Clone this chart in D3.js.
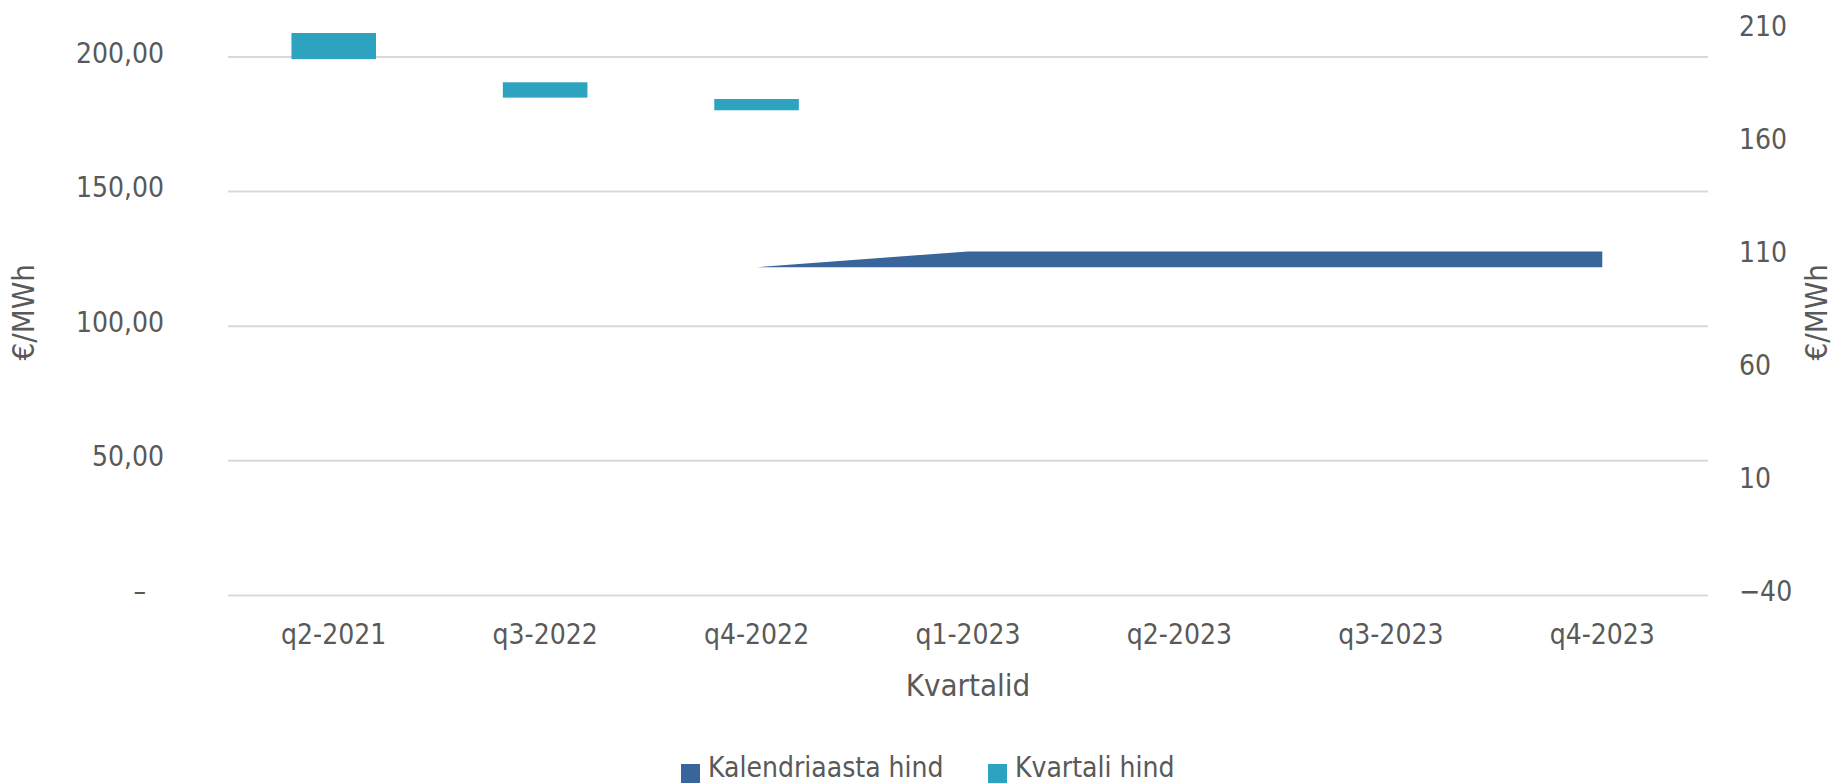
<!DOCTYPE html>
<html>
<head>
<meta charset="utf-8">
<script src="https://cdn.jsdelivr.net/npm/d3@7"></script>
<style>
  body { margin: 0; background: #fff; }
  svg text {
    font-family: "DejaVu Sans Condensed", "DejaVu Sans", sans-serif;
    font-stretch: condensed;
    fill: #595959;
  }
</style>
</head>
<body>
<div id="chart"></div>
<script>
// quarters on the x axis
var categories = ["q2-2021", "q3-2022", "q4-2022", "q1-2023", "q2-2023", "q3-2023", "q4-2023"];

// Kvartali hind: floating bars (low / high), left axis
var quarterLow = [199.0, 184.7, 180.0, null, null, null, null];
var quarterHigh = [208.7, 190.4, 184.2, null, null, null, null];

// Kalendriaasta hind: band area (low / high), right axis
var yearLow = [null, null, 104.9, 104.9, 104.9, 104.9, 104.9];
var yearHigh = [null, null, 104.9, 111.9, 111.9, 111.9, 111.9];

var leftTicks = [0, 50, 100, 150, 200];
var rightTicks = [-40, 10, 60, 110, 160, 210];

var seriesNames = ["Kalendriaasta hind", "Kvartali hind"];
var seriesColors = ["#3A649C", "#2EA3BF"];

var width = 1835;
var height = 784;
var plotLeft = 228;
var plotRight = 1708;
var plotTop = 29.5;
var plotBottom = 595;

var locale = d3.formatLocale({ decimal: ",", thousands: " ", grouping: [3], currency: ["", "€"] });
var fmt = locale.format(".2f");

var svg = d3
  .select("#chart")
  .append("svg")
  .attr("width", width)
  .attr("height", height)
  .style("background", "#fff");

var x = d3
  .scaleBand()
  .domain(categories)
  .range([plotLeft, plotRight])
  .paddingInner(0.6)
  .paddingOuter(0.3);

var yLeft = d3.scaleLinear().domain([0, 210]).range([plotBottom, plotTop]);
var yRight = d3.scaleLinear().domain([-40, 210]).range([plotBottom, plotTop]);

var center = function(c) {
  return x(c) + x.bandwidth() / 2;
};

// gridlines from the left axis
var grid = svg
  .append("g")
  .attr("transform", "translate(" + plotLeft + ",0)")
  .call(
    d3
      .axisLeft(yLeft)
      .tickValues(leftTicks)
      .tickSize(-(plotRight - plotLeft))
      .tickFormat("")
  );
grid.select(".domain").remove();
grid.selectAll("line").attr("stroke", "#D9D9D9").attr("stroke-width", 2);

// left axis labels
var leftAxis = svg
  .append("g")
  .attr("transform", "translate(" + plotLeft + ",0)")
  .call(
    d3
      .axisLeft(yLeft)
      .tickValues(leftTicks)
      .tickSize(0)
      .tickPadding(64)
      .tickFormat(function(d) {
        return d === 0 ? "–" : fmt(d);
      })
  );
leftAxis.select(".domain").remove();
leftAxis
  .selectAll("text")
  .attr("dy", "0.2em")
  .attr("dx", function(d) {
    return d === 0 ? -18 : 0;
  })
  .style("font-size", "28px");

// right axis labels
var rightAxis = svg
  .append("g")
  .attr("transform", "translate(" + plotRight + ",0)")
  .call(
    d3
      .axisRight(yRight)
      .tickValues(rightTicks)
      .tickSize(0)
      .tickPadding(31)
  );
rightAxis.select(".domain").remove();
rightAxis
  .selectAll("text")
  .attr("dy", "0.2em")
  .style("font-size", "28px");

// x axis labels
var xAxis = svg
  .append("g")
  .attr("transform", "translate(0," + plotBottom + ")")
  .call(d3.axisBottom(x).tickSize(0));
xAxis.select(".domain").remove();
xAxis
  .selectAll("text")
  .attr("y", 49)
  .attr("dy", 0)
  .style("font-size", "28px");

// Kalendriaasta hind area
var yearData = categories.map(function(c, i) {
  return { cat: c, low: yearLow[i], high: yearHigh[i] };
});
var area = d3
  .area()
  .defined(function(d) {
    return d.low !== null;
  })
  .x(function(d) {
    return center(d.cat);
  })
  .y0(function(d) {
    return yRight(d.low);
  })
  .y1(function(d) {
    return yRight(d.high);
  });
svg
  .append("path")
  .datum(yearData)
  .attr("d", area)
  .attr("fill", seriesColors[0]);

// Kvartali hind floating bars
var quarterData = categories
  .map(function(c, i) {
    return { cat: c, low: quarterLow[i], high: quarterHigh[i] };
  })
  .filter(function(d) {
    return d.low !== null;
  });
svg
  .selectAll(".qbar")
  .data(quarterData)
  .enter()
  .append("rect")
  .attr("class", "qbar")
  .attr("x", function(d) {
    return x(d.cat);
  })
  .attr("width", x.bandwidth())
  .attr("y", function(d) {
    return yLeft(d.high);
  })
  .attr("height", function(d) {
    return yLeft(d.low) - yLeft(d.high);
  })
  .attr("fill", seriesColors[1]);

// axis titles
svg
  .append("text")
  .attr("x", (plotLeft + plotRight) / 2)
  .attr("y", 696)
  .attr("text-anchor", "middle")
  .style("font-size", "31px")
  .text("Kvartalid");

svg
  .append("text")
  .attr("transform", "translate(34," + (plotTop + plotBottom) / 2 + ") rotate(-90)")
  .attr("text-anchor", "middle")
  .style("font-size", "31px")
  .text("€/MWh");

svg
  .append("text")
  .attr("transform", "translate(1827," + (plotTop + plotBottom) / 2 + ") rotate(-90)")
  .attr("text-anchor", "middle")
  .style("font-size", "31px")
  .text("€/MWh");

// legend
var legendX = [681, 988];
var legendItem = svg
  .append("g")
  .selectAll("g")
  .data(seriesNames)
  .enter()
  .append("g")
  .attr("transform", function(d, i) {
    return "translate(" + legendX[i] + ",764)";
  });

legendItem
  .append("rect")
  .attr("width", 19)
  .attr("height", 19)
  .attr("fill", function(d, i) {
    return seriesColors[i];
  });

legendItem
  .append("text")
  .attr("x", 27)
  .attr("y", 13)
  .style("font-size", "28px")
  .text(function(d) {
    return d;
  });
</script>
</body>
</html>
